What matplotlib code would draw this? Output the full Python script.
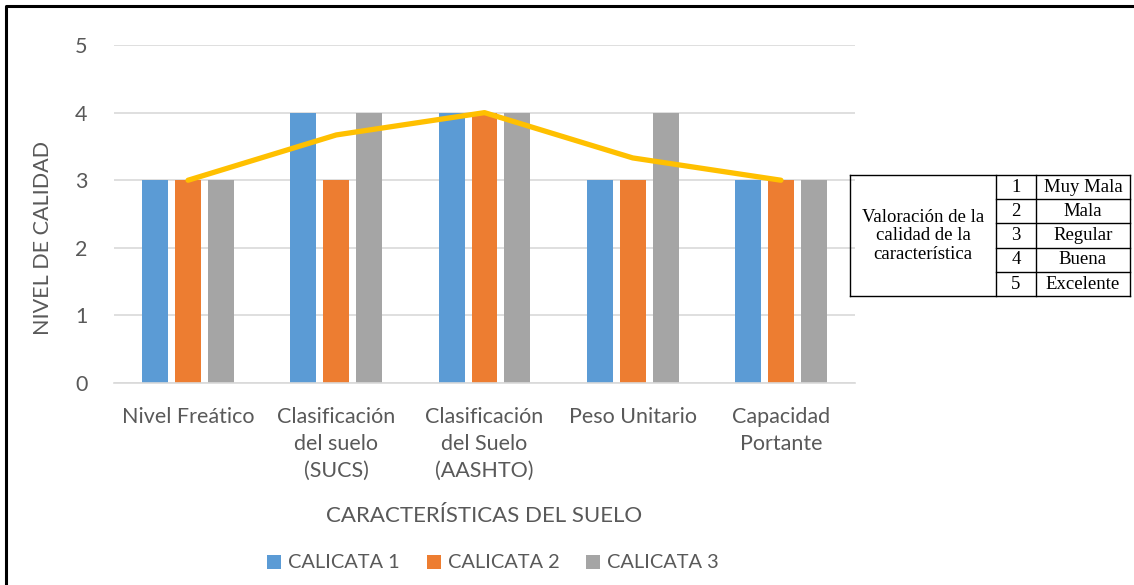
import matplotlib.pyplot as plt
import numpy as np
from matplotlib.lines import Line2D

categorias = ["Nivel Freático", "Clasificación\ndel suelo\n(SUCS)",
              "Clasificación\ndel Suelo\n(AASHTO)", "Peso Unitario",
              "Capacidad\nPortante"]
calicata1 = [3, 4, 4, 3, 3]
calicata2 = [3, 3, 4, 3, 3]
calicata3 = [3, 4, 4, 4, 3]
promedio = [3, 3.67, 4, 3.33, 3]
series = ["CALICATA 1", "CALICATA 2", "CALICATA 3"]

niveles = ["1", "2", "3", "4", "5"]
valoracion = ["Muy Mala", "Mala", "Regular", "Buena", "Excelente"]

gris = "#595959"
plt.rcParams["font.family"] = ["Lato", "DejaVu Sans"]

fig = plt.figure(figsize=(11.34, 5.85), dpi=100)
ax = fig.add_axes([0.1005, 0.3453, 0.6535, 0.5777])

x = np.arange(len(categorias))
w = 0.175
colores = ["#5B9BD5", "#ED7D31", "#A5A5A5"]
for k, (vals, nom) in enumerate(zip([calicata1, calicata2, calicata3], series)):
    ax.bar(x + (k - 1) * 0.222, vals, w, color=colores[k], label=nom, zorder=2)
ax.plot(x, promedio, color="#FFC000", lw=3.8, zorder=3, solid_capstyle="round")

ax.set_xlim(-0.5, 4.5)
ax.set_ylim(0, 5)
ax.set_yticks(range(6))
ax.grid(axis="y", color="#D9D9D9", lw=1.2, zorder=0)
ax.set_axisbelow(True)
for s in ["top", "right", "left"]:
    ax.spines[s].set_visible(False)
ax.spines["bottom"].set_color("#D9D9D9")
ax.spines["bottom"].set_linewidth(1.2)
ax.tick_params(length=0, labelsize=15.5, colors=gris)
ax.set_xticks(x)
ax.set_xticklabels(categorias, linespacing=1.45, va="top")
ax.tick_params(axis="x", pad=17)
ax.tick_params(axis="y", pad=19)
ax.set_ylabel("NIVEL DE CALIDAD", fontsize=15.5, color=gris)
ax.yaxis.set_label_coords(-0.082, 0.43)
ax.set_xlabel("CARACTERÍSTICAS DEL SUELO", fontsize=16, color=gris, labelpad=18)

leg = fig.legend(loc="center", bbox_to_anchor=(493 / 1134, 1 - 563 / 585), ncol=3,
                 frameon=False, fontsize=14.4, handlelength=0.7, handleheight=0.7,
                 columnspacing=1.35, handletextpad=0.35)
for t in leg.get_texts():
    t.set_color(gris)

# borde recortado de la imagen
fig.add_artist(Line2D([5.5 / 1134, 5.5 / 1134, 1], [0, 1 - 6 / 585, 1 - 6 / 585],
                      transform=fig.transFigure, color="black", lw=2.2))

# tabla de valoración
def fx(px):
    return px / 1134

def fy(py):
    return 1 - py / 585

x0, x1, x2, x3 = 850, 996, 1036, 1130
ys = [175, 199, 223, 248, 272, 296]
tc = dict(transform=fig.transFigure, color="black", lw=1.0)
for xx in [x0, x1, x2, x3]:
    fig.add_artist(Line2D([fx(xx), fx(xx)], [fy(ys[0]), fy(ys[-1])], **tc))
fig.add_artist(Line2D([fx(x0), fx(x3)], [fy(ys[0]), fy(ys[0])], **tc))
fig.add_artist(Line2D([fx(x0), fx(x3)], [fy(ys[-1]), fy(ys[-1])], **tc))
for yy in ys[1:-1]:
    fig.add_artist(Line2D([fx(x1), fx(x3)], [fy(yy), fy(yy)], **tc))
tf = dict(family="Liberation Serif", fontsize=13.5, ha="center", va="center")
fig.text(fx((x0 + x1) / 2), fy(236), "Valoración de la\ncalidad de la\ncaracterística",
         linespacing=1.15, **tf)
for i in range(5):
    yc = fy((ys[i] + ys[i + 1]) / 2)
    fig.text(fx((x1 + x2) / 2), yc, niveles[i], **tf)
    fig.text(fx((x2 + x3) / 2), yc, valoracion[i], **tf)

fig.savefig("out.png", dpi=100)
